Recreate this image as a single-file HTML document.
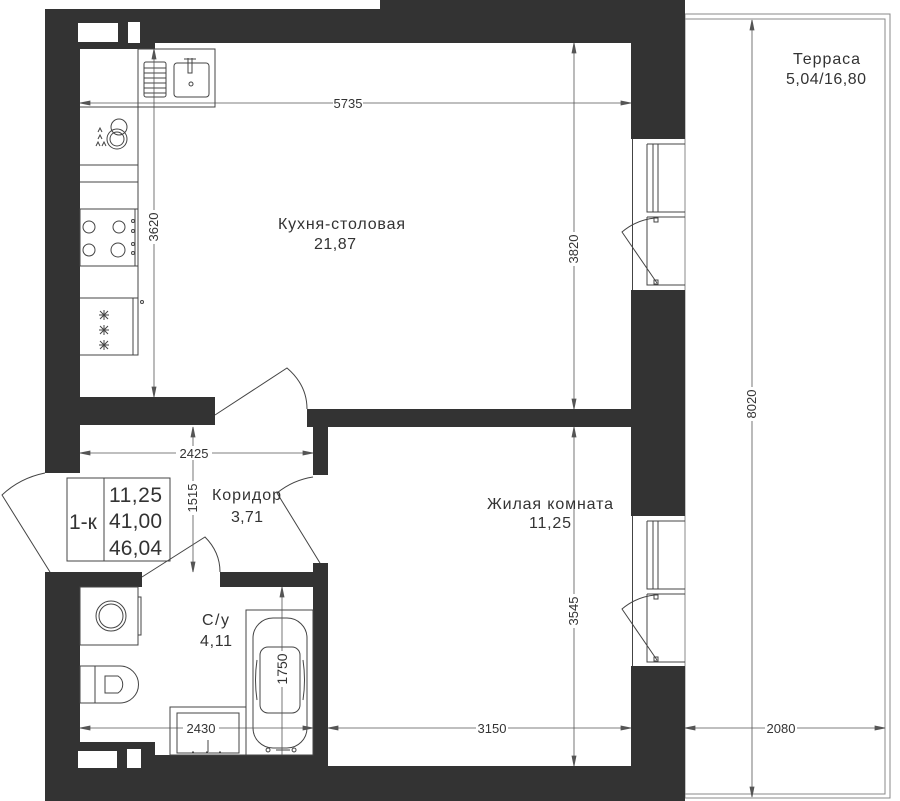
<!DOCTYPE html>
<html><head><meta charset="utf-8"><style>
html,body{margin:0;padding:0;background:#fff}
svg{display:block}
text{font-family:"Liberation Sans",sans-serif;fill:#333}
</style></head><body>
<svg width="900" height="801" viewBox="0 0 900 801" xmlns="http://www.w3.org/2000/svg">
<rect x="685" y="14" width="205" height="784" fill="none" stroke="#888" stroke-width="1"/>
<rect x="685" y="19" width="200" height="775" fill="none" stroke="#888" stroke-width="1"/>
<g fill="#333">
<rect x="380" y="0" width="305" height="43"/>
<rect x="45" y="9" width="340" height="34"/>
<rect x="45" y="9" width="110" height="40"/>
<rect x="45" y="9" width="35" height="464"/>
<rect x="631" y="0" width="54" height="139"/>
<rect x="631" y="290" width="54" height="226"/>
<rect x="631" y="666" width="54" height="135"/>
<rect x="45" y="397" width="170" height="28"/>
<rect x="307" y="409" width="324" height="18"/>
<rect x="313" y="409" width="15" height="66"/>
<rect x="45" y="572" width="35" height="229"/>
<rect x="45" y="572" width="97" height="15"/>
<rect x="220" y="572" width="95" height="15"/>
<rect x="313" y="563" width="15" height="238"/>
<rect x="45" y="742" width="110" height="59"/>
<rect x="45" y="755" width="283" height="46"/>
<rect x="313" y="766" width="372" height="35"/>
</g>
<g fill="#fff">
<rect x="78" y="23" width="40" height="19"/>
<rect x="128" y="22" width="12" height="21"/>
<rect x="78" y="751" width="39" height="17"/>
<rect x="127" y="749" width="14" height="19"/>
</g>
<g fill="none" stroke="#444" stroke-width="1">
<path d="M632.5 139V290M647 144H685M647 144V212H685M653 144V212M658 144V212M647 217H685M647 217V285H685"/>
<path d="M632.5 516V666M647 521H685M647 521V589H685M653 521V589M658 521V589M647 594H685M647 594V662H685"/>
<path d="M657 283L622 232Q636 220 655 218"/>
<path d="M657 660L622 609Q636 597 655 595"/>
<rect x="654" y="280" width="4" height="4"/><rect x="654" y="218" width="4" height="4"/>
<rect x="654" y="657" width="4" height="4"/><rect x="654" y="595" width="4" height="4"/>
<path d="M80 355H138V49M138 107H80M138 165H80M80 182H138M80 209H138M80 266H138M80 298H138M133 298V355"/>
<rect x="138" y="49" width="77" height="58"/>
<rect x="144" y="62" width="22" height="35" rx="2"/>
<path d="M144 68H166M144 73H166M144 78H166M144 83H166M144 88H166M144 93H166"/>
<rect x="174" y="63" width="35" height="34" rx="3"/>
<path d="M188 58V73H192V58M184 59H196"/>
<circle cx="191" cy="84" r="2"/>
<circle cx="119" cy="127" r="8"/><circle cx="117" cy="139" r="10"/><circle cx="117" cy="139" r="7"/>
<path d="M98 132l2 -4 2 4M98 139l2 -4 2 4M96 146l2 -4 2 4M102 146l2 -4 2 4"/>
<rect x="80" y="209" width="55" height="57"/>
<circle cx="89" cy="227" r="6"/><circle cx="119" cy="227" r="6"/>
<circle cx="89" cy="250" r="6"/><circle cx="118" cy="250" r="7"/>
<circle cx="133" cy="221" r="1.5"/><circle cx="133" cy="231" r="1.5"/><circle cx="133" cy="244" r="1.5"/><circle cx="133" cy="253" r="1.5"/>
<circle cx="142" cy="302" r="1.5"/>
<path d="M100 311l8 8M108 311l-8 8M104 310v10M99 315h10M100 326l8 8M108 326l-8 8M104 325v10M99 330h10M100 341l8 8M108 341l-8 8M104 340v10M99 345h10"/>
<path d="M215 415L287 368Q307 385 307 409"/>
<path d="M50 572L2 495Q20 478 45 473"/>
<path d="M142 577L205 537Q220 552 220 572"/>
<path d="M320 563L277 493Q293 480 313 477"/>
<rect x="67" y="478" width="103" height="83"/>
<path d="M104 478V561"/>
<rect x="80" y="587" width="58" height="58"/>
<path d="M138 597H141V635H138"/>
<circle cx="111" cy="616" r="15"/><circle cx="111" cy="616" r="12"/>
<rect x="80" y="666" width="15" height="37"/>
<path d="M95 666H120A18 18 0 0 1 120 703H95"/>
<path d="M105 676H118A10 10 0 0 1 118 693H105Z"/>
<rect x="246" y="610" width="67" height="145"/>
<rect x="253" y="618" width="54" height="130" rx="20"/>
<rect x="260" y="647" width="40" height="66" rx="8"/>
<path d="M257 660Q254 680 257 700M303 660Q306 680 303 700"/>
<path d="M276 750h14M268 748a2 2 0 1 0 .1 0M294 748a2 2 0 1 0 .1 0"/>
<rect x="170" y="707" width="76" height="48"/>
<rect x="177" y="713" width="62" height="40"/>
<path d="M208 740V752M192 752h2M206 752h2M219 752h2"/>
</g>
<g stroke="#555" stroke-width="0.8" fill="#555">
<path d="M80 103H631M154 49V397M574 43V409M80 453H313M193 427V572M574 427V766M80 728H313M328 728H631M685 728H885M752 20V797M282 587V755"/>
<path d="M80 103l10 -2v4zM631 103l-10 -2v4zM154 49l-2 10h4zM154 397l-2 -10h4zM574 43l-2 10h4zM574 409l-2 -10h4zM80 453l10 -2v4zM313 453l-10 -2v4zM193 427l-2 10h4zM193 572l-2 -10h4zM574 427l-2 10h4zM574 766l-2 -10h4zM80 728l10 -2v4zM313 728l-10 -2v4zM328 728l10 -2v4zM631 728l-10 -2v4zM685 728l10 -2v4zM885 728l-10 -2v4zM752 20l-2 10h4zM752 797l-2 -10h4zM282 587l-2 10h4z"/>
</g>
<g fill="#fff">
<rect x="333" y="96" width="30" height="14"/>
<rect x="147" y="210" width="14" height="34"/>
<rect x="567" y="232" width="14" height="34"/>
<rect x="176" y="446" width="36" height="14"/>
<rect x="186" y="481" width="14" height="34"/>
<rect x="567" y="594" width="14" height="34"/>
<rect x="183" y="721" width="36" height="14"/>
<rect x="476" y="721" width="32" height="14"/>
<rect x="765" y="721" width="32" height="14"/>
<rect x="745" y="387" width="14" height="34"/>
<rect x="275" y="651" width="14" height="36"/>
</g>
<g font-size="13" text-anchor="middle">
<text x="348" y="108">5735</text>
<text x="194" y="458">2425</text>
<text x="201" y="733">2430</text>
<text x="492" y="733">3150</text>
<text x="781" y="733">2080</text>
<text transform="translate(158,227) rotate(-90)">3620</text>
<text transform="translate(578,249) rotate(-90)">3820</text>
<text transform="translate(197,498) rotate(-90)">1515</text>
<text transform="translate(578,611) rotate(-90)">3545</text>
<text transform="translate(756,404) rotate(-90)">8020</text>
<text transform="translate(287,669) rotate(-90)" font-size="14">1750</text>
</g>
<g font-size="16">
<text x="278" y="229" textLength="127">Кухня-столовая</text>
<text x="314" y="249" textLength="42">21,87</text>
<text x="212" y="500" textLength="69">Коридор</text>
<text x="231" y="522" textLength="32">3,71</text>
<text x="487" y="509" textLength="126">Жилая комната</text>
<text x="529" y="528" textLength="42">11,25</text>
<text x="202" y="625" textLength="27">С/у</text>
<text x="200" y="646" textLength="32">4,11</text>
<text x="793" y="64" textLength="67">Терраса</text>
<text x="786" y="84" textLength="80">5,04/16,80</text>
</g>
<g font-size="21">
<text x="69" y="529">1-к</text>
<text x="109" y="502" textLength="53">11,25</text>
<text x="109" y="528" textLength="53">41,00</text>
<text x="109" y="555" textLength="53">46,04</text>
</g>
</svg>
</body></html>
